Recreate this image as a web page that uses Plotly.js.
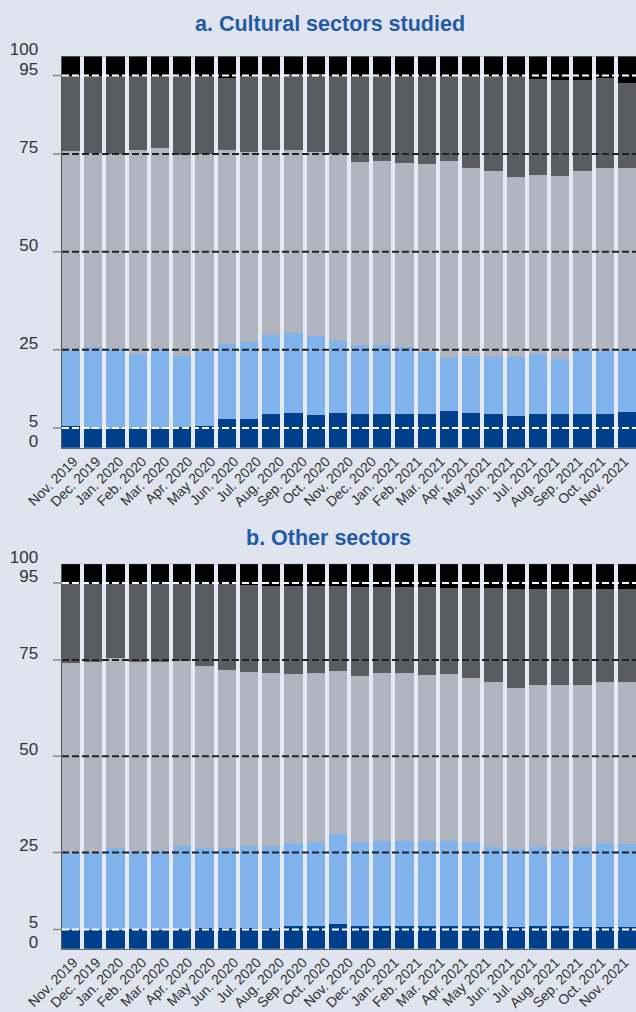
<!DOCTYPE html>
<html><head><meta charset="utf-8">
<script src="https://cdn.plot.ly/plotly-3.0.1.min.js"></script>
<style>html,body{margin:0;padding:0;background:#dfe4ef}</style>
</head><body>
<div id="chart" style="width:636px;height:1012px"></div>
<script>
// ---- Data ----
const monthLabels = ['Nov. 2019','Dec. 2019','Jan. 2020','Feb. 2020','Mar. 2020','Apr. 2020','May 2020','Jun. 2020','Jul. 2020','Aug. 2020','Sep. 2020','Oct. 2020','Nov. 2020','Dec. 2020','Jan. 2021','Feb. 2021','Mar. 2021','Apr. 2021','May 2021','Jun. 2021','Jul. 2021','Aug. 2021','Sep. 2021','Oct. 2021','Nov. 2021'];
const yTickValues = [0,5,25,50,75,95,100];
const refLines = [5,25,50,75,95];

// Panel a: cumulative boundaries (%) of the five bands, one value per bar
const cultP5  = [5.5,4.8,4.7,4.9,4.8,5.3,5.6,7.4,7.4,8.7,8.8,8.4,8.9,8.7,8.7,8.7,8.7,9.4,8.9,8.7,8.2,8.6,8.7,8.7,8.7,9.1];
const cultP25 = [25.0,25.6,25.2,23.8,24.9,23.5,24.6,26.5,26.9,28.7,29.4,28.4,27.3,26.1,26.3,25.8,24.5,23.0,23.4,23.2,23.2,23.9,22.7,24.7,24.7,25.0];
const cultP75 = [75.7,75.3,75.0,76.0,76.4,74.8,75.0,76.0,75.5,76.0,76.0,75.4,75.0,73.0,73.3,72.6,72.4,73.3,71.4,70.6,69.2,69.7,69.4,70.7,71.4,71.4];
const cultP95 = [94.9,94.9,94.9,94.9,94.9,94.8,94.8,94.5,94.8,94.9,95.5,95.5,94.9,94.9,94.9,94.9,94.9,94.9,94.9,94.9,94.9,94.1,93.8,93.8,94.4,93.2];

// Panel b
const othP5  = [4.8,4.8,4.8,5.0,4.8,5.2,5.4,5.4,5.4,5.3,5.8,5.8,6.3,5.8,6.0,6.0,6.0,6.0,6.0,6.0,5.6,5.8,5.8,5.6,5.6,5.6];
const othP25 = [24.9,24.8,26.2,25.3,25.3,26.8,26.1,26.1,26.6,26.8,27.4,27.7,29.7,27.7,27.9,28.1,27.9,28.1,27.7,26.4,26.0,26.4,26.0,26.5,27.4,27.2];
const othP75 = [74.3,74.5,75.6,74.5,74.5,74.6,73.3,72.5,71.8,71.6,71.3,71.5,72.2,70.9,71.5,71.5,71.1,71.3,70.2,69.2,67.8,68.5,68.4,68.4,69.4,69.2];
const othP95 = [94.8,94.8,94.8,94.8,94.8,94.7,94.6,94.6,94.5,94.3,94.3,94.3,94.2,93.9,94.0,94.0,93.9,93.7,93.8,93.7,93.5,93.5,93.3,93.5,93.5,93.5];

// ---- Build ----
const bandColors = ['#003f8c','#80b3ec','#b1b5c0','#5b5c61','#000000'];
const W = 636, H = 1012, L = 62;
const py = px => (H - px) / H;
const X0 = -0.41, X1 = 25.41;

function bands(p5, p25, p75, p95) {
  const tops = [p5, p25, p75, p95, p5.map(() => 100)];
  return tops.map((t, k) => t.map((v, i) => k === 0 ? v : +(v - tops[k-1][i]).toFixed(2)));
}
function traces(p5, p25, p75, p95, xa, ya) {
  const b = bands(p5, p25, p75, p95);
  const xs = p5.map((_, i) => i);
  return b.map((vals, k) => ({
    type: 'bar', x: xs, y: vals, xaxis: xa, yaxis: ya,
    marker: {color: bandColors[k], line: {width: 0}},
    hoverinfo: 'skip'
  }));
}
const data = [
  ...traces(cultP5, cultP25, cultP75, cultP95, 'x', 'y'),
  ...traces(othP5, othP25, othP75, othP95, 'x2', 'y2')
];

// month labels are spread evenly over the full axis width
const labelPos = monthLabels.map((_, k) => X0 + (k + 0.5) * (X1 - X0) / monthLabels.length);
const barAxis = anchor => ({domain:[0,1], anchor, range:[X0,X1], tickmode:'array', tickvals:labelPos, ticktext:monthLabels, tickangle:-45, ticks:'', showgrid:false, zeroline:false, showline:true, linecolor:'#6a6a6a', linewidth:1, tickfont:{size:14, color:'#333'}, ticklabelstandoff:-1, fixedrange:true});
const valAxis = dom => ({domain:dom, range:[0,100], tickmode:'array', tickvals:yTickValues, ticks:'', showgrid:false, zeroline:false, showline:true, linecolor:'#555', linewidth:1.5, tickfont:{size:17, color:'#333'}, ticklabelstandoff:19, ticklabelshift:-7, fixedrange:true});

const shapes = [];
['y','y2'].forEach(yr => {
  refLines.forEach(v => {
    const white = (v === 5 || v === 95);
    shapes.push({type:'line', xref:'paper', yref:yr, x0:0, x1:1, y0:v, y1:v, layer:'above',
      line:{color: white ? '#ffffff' : '#222222', width:2, dash:'7px,3px'}});
    shapes.push({type:'line', xref:'paper', yref:yr, x0:-9/(W-L), x1:0, y0:v, y1:v, layer:'above',
      line:{color:'#8a8a8a', width:1.5}});
  });
  shapes.push({type:'line', xref:'paper', yref:yr, x0:0, x1:1, y0:100, y1:100, layer:'above', line:{color:'#9a9a9a', width:1}});
});

const titleFont = {family:'Liberation Sans, Arial, sans-serif', size:21.5, color:'#1f5ba6', weight:700};
const layout = {
  width: W, height: H,
  margin: {l:L, r:0, t:0, b:0, pad:0},
  paper_bgcolor: '#dfe4ef', plot_bgcolor: '#e5e9f3',
  barmode: 'stack', bargap: 0.18, showlegend: false,
  font: {family:'Liberation Sans, Arial, sans-serif', color:'#333'},
  xaxis: barAxis('y'), xaxis2: barAxis('y2'),
  yaxis: valAxis([py(447.7), py(56)]),
  yaxis2: valAxis([py(948.7), py(563.7)]),
  shapes,
  annotations: [
    {text:'a. Cultural sectors studied', xref:'paper', yref:'paper', x:(329.5-L)/(W-L), y:py(24), xanchor:'center', yanchor:'middle', showarrow:false, font:titleFont},
    {text:'b. Other sectors', xref:'paper', yref:'paper', x:(328-L)/(W-L), y:py(538), xanchor:'center', yanchor:'middle', showarrow:false, font:titleFont}
  ]
};
Plotly.newPlot('chart', data, layout, {displayModeBar:false, staticPlot:true});
</script>
</body></html>
